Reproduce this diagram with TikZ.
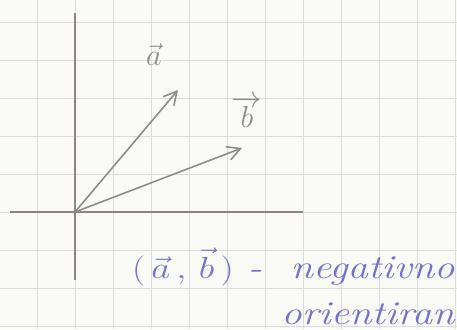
\documentclass[tikz,border=0pt]{standalone}
\usepackage{tikz}
\usepackage{xcolor}
\usetikzlibrary{arrows.meta,positioning}
\definecolor{paperbg}{HTML}{FAFAF6}
\definecolor{gridln}{HTML}{DCDCDC}
\definecolor{axisln}{HTML}{8E8485}
\definecolor{vecln}{HTML}{8C8C8C}
\definecolor{inkblue}{HTML}{7272D2}

\begin{document}
\begin{tikzpicture}[x=0.02cm,y=-0.02cm,
    vec/.style={draw=vecln,line width=0.9pt,
                -{Straight Barb[length=2.6mm,width=2.8mm]}},
    veclabel/.style={text=vecln,inner sep=0pt,font=\fontsize{18}{20}\selectfont},
    note/.style={text=inkblue,inner sep=0pt,xscale=1.22,transform shape,
                 font=\fontsize{19}{22}\selectfont\itshape}]
  \fill[paperbg] (0,0) rectangle (457,329);
  \useasboundingbox (0,0) rectangle (457,329);
  % squared paper
  \foreach \gx in {37,75,...,455}
    \draw[gridln,line width=0.5pt] (\gx,0) -- (\gx,329);
  \foreach \gy in {22,60,...,326}
    \draw[gridln,line width=0.5pt] (0,\gy) -- (457,\gy);
  % axes
  \coordinate (O) at (75,212);
  \coordinate (xl) at (10,212);
  \coordinate (xr) at (303,212);
  \coordinate (yt) at (75,13);
  \coordinate (yb) at (75,280);
  \draw[axisln,line width=0.9pt] (xl) -- (xr);
  \draw[axisln,line width=0.9pt] (yb) -- (yt);
  % vectors
  \coordinate (A) at (178,90);
  \coordinate (B) at (242,148);
  \draw[vec] (O) -- (A);
  \draw[vec] (O) -- (B);
  \node[veclabel] (la) at (154,55) {$\vec{a}$};
  \node[veclabel] (lb) at (247,112) {$\overrightarrow{b}$};
  % orientation note
  \node[note,anchor=base east] (n1) at (455,278)
    {$\bigl(\,\vec{a}\,,\,\vec{b}\,\bigr)$\ -\ \ negativno};
  \node[note,anchor=base east] (n2) at (455,324) {orientiran};
\end{tikzpicture}
\end{document}
